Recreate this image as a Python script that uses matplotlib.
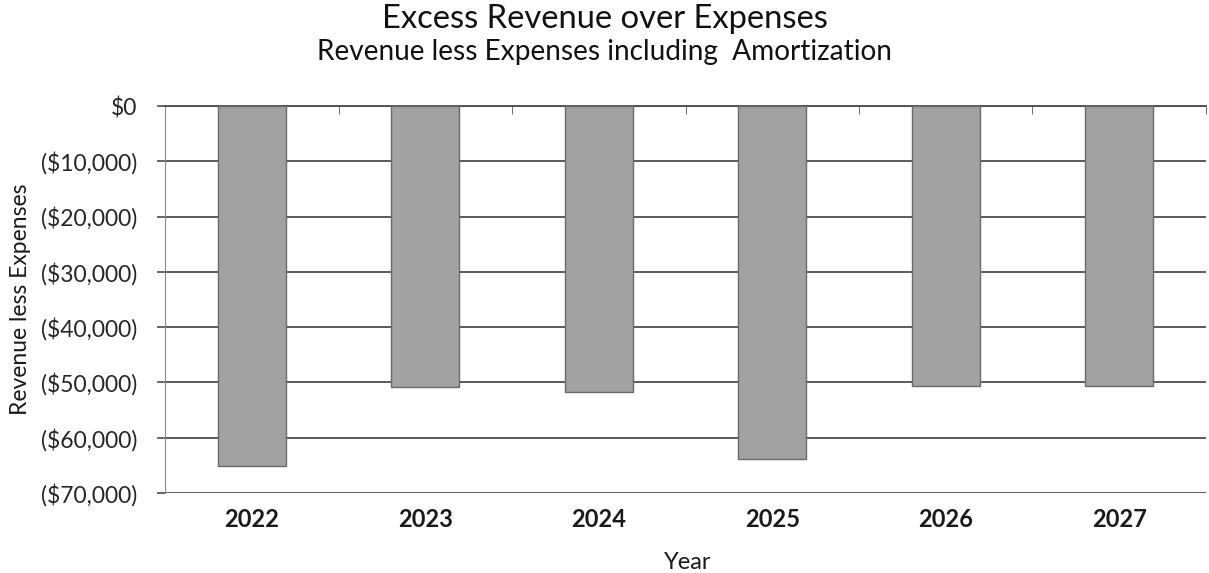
import numpy as np
import matplotlib
matplotlib.use("Agg")
import matplotlib.pyplot as plt
from matplotlib.ticker import FuncFormatter, MultipleLocator

plt.rcParams["font.family"] = ["Lato", "DejaVu Sans"]

years = ["2022", "2023", "2024", "2025", "2026", "2027"]
net_result = [-65200, -50800, -51700, -63800, -50700, -50600]

title = "Excess Revenue over Expenses"
subtitle = "Revenue less Expenses including  Amortization"


def dollars(v, pos):
    if v == 0:
        return "$0"
    if v < 0:
        return f"(${abs(v):,.0f})"
    return f"${v:,.0f}"


fig = plt.figure(figsize=(12.09, 5.73), dpi=100)
ax = fig.add_axes([0.1365, 0.1396, 0.861, 0.6754])

x = np.arange(len(years))
ax.bar(x, net_result, width=0.39, color="#a2a2a2", edgecolor="#6a6a6a",
       linewidth=1.0, zorder=3)

ax.set_xlim(-0.5, len(years) - 0.5)
ax.set_ylim(-70000, 0)
ax.yaxis.set_major_locator(MultipleLocator(10000))
ax.yaxis.set_major_formatter(FuncFormatter(dollars))
ax.grid(axis="y", color="#4d4d4d", linewidth=1.3, zorder=1)

# category labels under the plot, boundary ticks along the $0 line
ax.set_xticks(x)
ax.set_xticklabels(years, fontsize=17, fontweight="bold", color="#1a1a1a")
ax.set_xticks(np.arange(len(years)) + 0.5, minor=True)
ax.tick_params(axis="x", which="major", length=0, pad=11)
ax.tick_params(axis="x", which="minor", bottom=False, top=True,
               direction="in", length=6, color="#555555")
ax.tick_params(axis="y", length=6, width=1.2, color="#4d4d4d",
               labelsize=16.5, pad=14, labelcolor="#262626")

for side in ["right", "bottom"]:
    ax.spines[side].set_visible(False)
ax.spines["left"].set_color("#8a8a8a")
ax.spines["top"].set_color("#4d4d4d")
ax.spines["top"].set_linewidth(1.3)

ax.set_ylabel("Revenue less Expenses", fontsize=16.5, color="#1a1a1a")
ax.yaxis.set_label_coords(-0.129, 0.5)

fig.text(0.5, 0.967, title, ha="center", va="center", fontsize=23.6,
         color="#111111")
fig.text(0.5, 0.909, subtitle, ha="center", va="center", fontsize=20.2,
         color="#111111")
fig.text(0.569, 0.019, "Year", ha="center", va="center", fontsize=17,
         color="#1a1a1a")

fig.savefig("out.png", dpi=100)
